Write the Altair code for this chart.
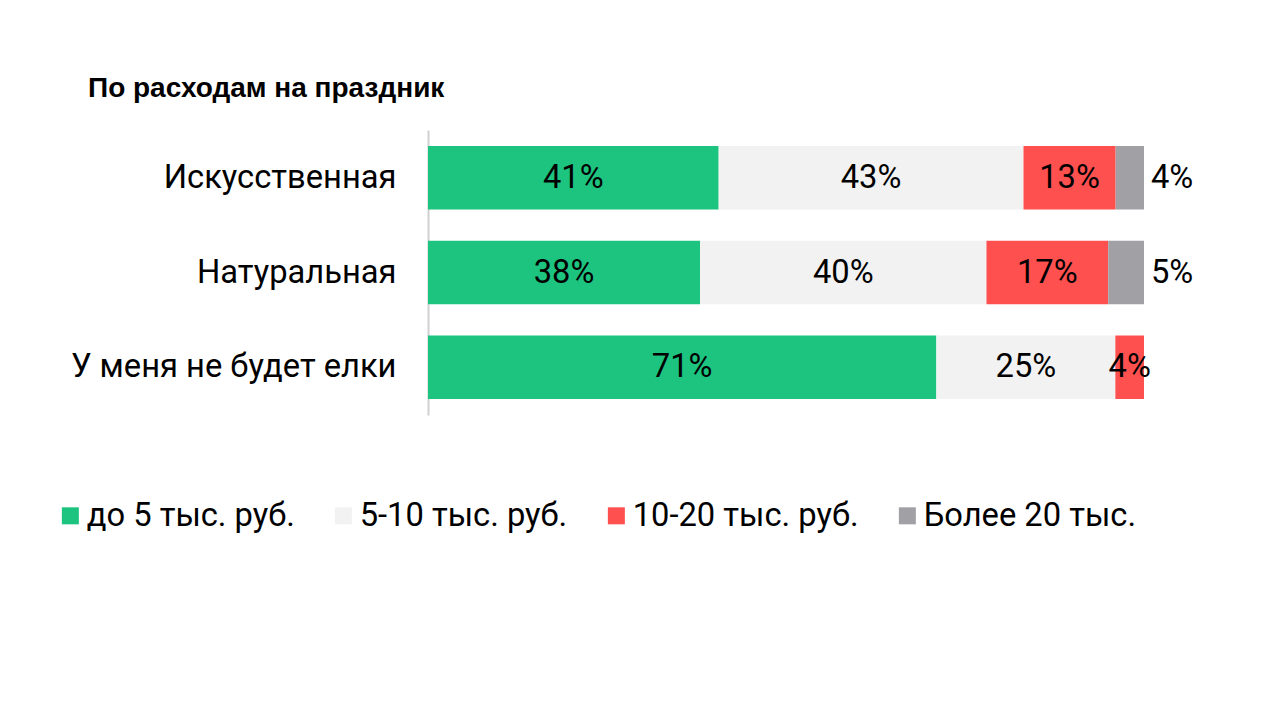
import altair as alt
import pandas as pd

categories = ["Искусственная", "Натуральная", "У меня не будет елки"]
series = ["до 5 тыс. руб.", "5-10 тыс. руб.", "10-20 тыс. руб.", "Более 20 тыс."]
colors = ["#1DC47F", "#F2F2F2", "#FF5050", "#A0A0A5"]
values = {
    "Искусственная": [41, 43, 13, 4],
    "Натуральная": [38, 40, 17, 5],
    "У меня не будет елки": [71, 25, 4, None],
}

rows = []
for c in categories:
    for i, s in enumerate(series):
        v = values[c][i]
        if v is not None:
            rows.append({"cat": c, "series": s, "order": i, "value": v})
df = pd.DataFrame(rows)

base = alt.Chart(df).transform_joinaggregate(
    total="sum(value)", groupby=["cat"]
).transform_calculate(
    pct="datum.value / datum.total"
).transform_stack(
    stack="pct", groupby=["cat"], sort=[alt.SortField("order")], as_=["x0", "x1"]
).transform_calculate(
    mid="(datum.x0 + datum.x1) / 2",
    label="datum.value + '%'"
)

FS = 32.7

yenc = alt.Y(
    "cat:N",
    sort=categories,
    title=None,
    scale=alt.Scale(paddingInner=0.33, paddingOuter=0.17),
    axis=alt.Axis(
        labelFont="Roboto", labelFontSize=FS, labelColor="#000000",
        labelPadding=32, ticks=False, domainColor="#D0D0D0", domainWidth=2,
        labelLimit=500,
    ),
)
xscale = alt.Scale(domain=[0, 1])

bars = base.mark_bar(strokeWidth=0).encode(
    x=alt.X("x0:Q", scale=xscale, axis=None),
    x2="x1:Q",
    y=yenc,
    color=alt.Color(
        "series:N",
        scale=alt.Scale(domain=series, range=colors),
        sort=series,
        legend=alt.Legend(
            title=None, orient="none", direction="horizontal",
            legendX=-374, legendY=369, columns=4,
            symbolType="square", symbolSize=289, symbolStrokeWidth=0,
            labelFont="Roboto", labelFontSize=FS, labelColor="#000000",
            labelOffset=0, columnPadding=32, labelLimit=500,
        ),
    ),
)

inner = base.transform_filter(alt.datum.order < 3).mark_text(
    font="Roboto", fontSize=FS, color="#000000", align="center", baseline="middle"
).encode(
    x=alt.X("mid:Q", scale=xscale),
    y=alt.Y("cat:N", sort=categories),
    text="label:N",
)

outer = base.transform_filter(alt.datum.order == 3).mark_text(
    font="Roboto", fontSize=FS, color="#000000", align="left", baseline="middle", dx=7
).encode(
    x=alt.X("x1:Q", scale=xscale),
    y=alt.Y("cat:N", sort=categories),
    text="label:N",
)

chart = alt.layer(bars, inner, outer).properties(
    width=716,
    height=285,
    autosize=alt.AutoSizeParams(type="none"),
    padding={"left": 420, "top": 122, "right": 128, "bottom": 200},
    title=alt.TitleParams(
        "По расходам на праздник",
        anchor="start", frame="group", dx=-340, offset=27,
        font="Liberation Sans", fontSize=28, fontWeight="bold", color="#000000",
    ),
).configure_view(stroke=None)

chart.save("out.html", embed_options={"renderer": "svg", "actions": False})
